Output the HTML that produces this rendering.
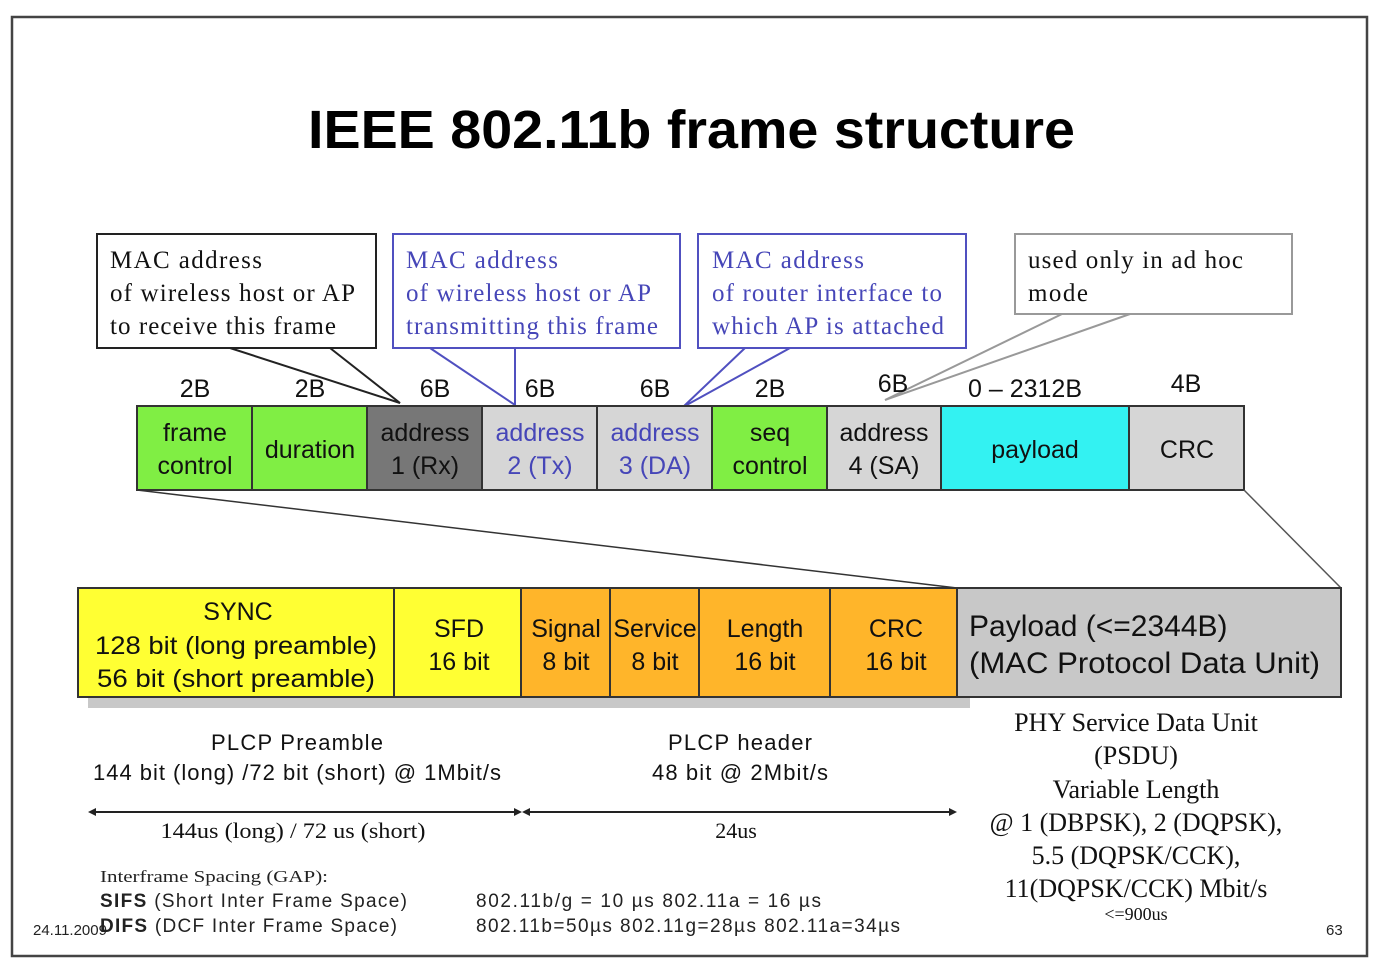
<!DOCTYPE html>
<html><head><meta charset="utf-8"><style>
html,body{margin:0;padding:0;background:#fff;width:1376px;height:966px;overflow:hidden}
svg{display:block}
.s{font-family:"Liberation Sans",sans-serif}
.r{font-family:"Liberation Serif",serif}
</style></head><body>
<svg width="1376" height="966" viewBox="0 0 1376 966" xmlns="http://www.w3.org/2000/svg">
<rect x="12" y="17" width="1355" height="939" fill="#fff" stroke="#444" stroke-width="2.5"/>
<text x="308" y="148" textLength="767" lengthAdjust="spacingAndGlyphs" class="s" font-size="54" font-weight="bold" fill="#000">IEEE 802.11b frame structure</text>

<!-- callouts -->
<g stroke-width="2">
<rect x="97" y="234" width="279" height="114" fill="#fff" stroke="#222"/>
<rect x="393" y="234" width="287" height="114" fill="#fff" stroke="#5050c0"/>
<rect x="698" y="234" width="268" height="114" fill="#fff" stroke="#5050c0"/>
<rect x="1015" y="234" width="277" height="80" fill="#fff" stroke="#999"/>
</g>
<g fill="none" stroke-width="2">
<polyline points="230,348 400,403 330,348" stroke="#222"/>
<polyline points="430,348 515,405 515,348" stroke="#5050c0"/>
<polyline points="745,348 683,407 790,348" stroke="#5050c0"/>
<polyline points="1062,314 885,400 1130,314" stroke="#999"/>
</g>
<g class="r" font-size="25" lengthAdjust="spacingAndGlyphs">
<text x="110" y="268" textLength="152" fill="#111">MAC address</text>
<text x="110" y="301" textLength="245" fill="#111">of wireless host or AP</text>
<text x="110" y="334" textLength="226" fill="#111">to receive this frame</text>
<text x="406" y="268" textLength="152" fill="#4646b8">MAC address</text>
<text x="406" y="301" textLength="245" fill="#4646b8">of wireless host or AP</text>
<text x="406" y="334" textLength="252" fill="#4646b8">transmitting  this frame</text>
<text x="712" y="268" textLength="152" fill="#4646b8">MAC address</text>
<text x="712" y="301" textLength="230" fill="#4646b8">of router interface to</text>
<text x="712" y="334" textLength="232" fill="#4646b8">which AP is attached</text>
<text x="1028" y="268" textLength="215" fill="#111">used only in ad hoc</text>
<text x="1028" y="301" textLength="60" fill="#111">mode</text>
</g>

<!-- size labels -->
<g class="s" font-size="25" fill="#111" text-anchor="middle">
<text x="195" y="397">2B</text><text x="310" y="397">2B</text><text x="435" y="397">6B</text>
<text x="540" y="397">6B</text><text x="655" y="397">6B</text><text x="770" y="397">2B</text>
<text x="893" y="392">6B</text><text x="1025" y="397">0 – 2312B</text><text x="1186" y="392">4B</text>
</g>

<!-- MAC frame row -->
<g stroke="#333" stroke-width="2">
<rect x="137" y="406" width="115" height="84" fill="#80ee44"/>
<rect x="252" y="406" width="115" height="84" fill="#80ee44"/>
<rect x="367" y="406" width="115" height="84" fill="#777"/>
<rect x="482" y="406" width="115" height="84" fill="#d6d6d6"/>
<rect x="597" y="406" width="115" height="84" fill="#d6d6d6"/>
<rect x="712" y="406" width="115" height="84" fill="#80ee44"/>
<rect x="827" y="406" width="114" height="84" fill="#d6d6d6"/>
<rect x="941" y="406" width="188" height="84" fill="#33f2f2"/>
<rect x="1129" y="406" width="115" height="84" fill="#d6d6d6"/>
</g>
<g class="s" font-size="25" text-anchor="middle" fill="#111">
<text x="195" y="441">frame</text><text x="195" y="474">control</text>
<text x="310" y="458">duration</text>
<text x="425" y="441">address</text><text x="425" y="474">1 (Rx)</text>
<text x="540" y="441" fill="#4646b8">address</text><text x="540" y="474" fill="#4646b8">2 (Tx)</text>
<text x="655" y="441" fill="#4646b8">address</text><text x="655" y="474" fill="#4646b8">3 (DA)</text>
<text x="770" y="441">seq</text><text x="770" y="474">control</text>
<text x="884" y="441">address</text><text x="884" y="474">4 (SA)</text>
<text x="1035" y="458">payload</text>
<text x="1187" y="458">CRC</text>
</g>

<line x1="137" y1="490" x2="957" y2="588" stroke="#333" stroke-width="1.5"/>
<line x1="1244" y1="490" x2="1341" y2="588" stroke="#555" stroke-width="1.5"/>

<!-- PHY row -->
<rect x="88" y="697" width="882" height="11" fill="#c8c8c8"/>
<g stroke="#333" stroke-width="2">
<rect x="78" y="588" width="316" height="109" fill="#ffff33"/>
<rect x="394" y="588" width="127" height="109" fill="#ffff33"/>
<rect x="521" y="588" width="89" height="109" fill="#ffb52a"/>
<rect x="610" y="588" width="89" height="109" fill="#ffb52a"/>
<rect x="699" y="588" width="131" height="109" fill="#ffb52a"/>
<rect x="830" y="588" width="127" height="109" fill="#ffb52a"/>
<rect x="957" y="588" width="384" height="109" fill="#c8c8c8"/>
</g>
<g class="s" font-size="25" text-anchor="middle" fill="#111">
<text x="238" y="620">SYNC</text>
<text x="236" y="654" textLength="282" lengthAdjust="spacingAndGlyphs">128 bit (long preamble)</text>
<text x="236" y="687" textLength="278" lengthAdjust="spacingAndGlyphs">56 bit (short preamble)</text>
<text x="459" y="637">SFD</text><text x="459" y="670">16 bit</text>
<text x="566" y="637">Signal</text><text x="566" y="670">8 bit</text>
<text x="655" y="637">Service</text><text x="655" y="670">8 bit</text>
<text x="765" y="637">Length</text><text x="765" y="670">16 bit</text>
<text x="896" y="637">CRC</text><text x="896" y="670">16 bit</text>
</g>
<g class="s" font-size="30" fill="#111">
<text x="969" y="636">Payload (&lt;=2344B)</text>
<text x="969" y="673" textLength="351" lengthAdjust="spacingAndGlyphs">(MAC Protocol Data Unit)</text>
</g>

<!-- descriptions -->
<g class="s" font-size="22" fill="#111" text-anchor="middle" lengthAdjust="spacingAndGlyphs">
<text x="297" y="750" textLength="172">PLCP Preamble</text>
<text x="297" y="780" textLength="408">144 bit (long) /72 bit (short) @ 1Mbit/s</text>
<text x="740" y="750" textLength="144">PLCP header</text>
<text x="740" y="780" textLength="176">48 bit @ 2Mbit/s</text>
</g>
<g class="r" font-size="26" fill="#111" text-anchor="middle">
<text x="1136" y="731">PHY Service Data Unit</text>
<text x="1136" y="764">(PSDU)</text>
<text x="1136" y="798">Variable Length</text>
<text x="1136" y="831">@ 1 (DBPSK), 2 (DQPSK),</text>
<text x="1136" y="864">5.5 (DQPSK/CCK),</text>
<text x="1136" y="897">11(DQPSK/CCK) Mbit/s</text>
<text x="1136" y="920" font-size="18">&lt;=900us</text>
</g>

<!-- arrows -->
<g stroke="#222" stroke-width="2">
<line x1="92" y1="812" x2="518" y2="812"/>
<line x1="526" y1="812" x2="953" y2="812"/>
</g>
<g fill="#222">
<polygon points="88,812 96,808 96,816"/>
<polygon points="522,812 514,808 514,816"/>
<polygon points="522,812 530,808 530,816"/>
<polygon points="957,812 949,808 949,816"/>
</g>
<g class="r" font-size="22" fill="#111" text-anchor="middle">
<text x="293" y="838" textLength="265" lengthAdjust="spacingAndGlyphs">144us (long) / 72 us (short)</text>
<text x="736" y="838">24us</text>
</g>

<!-- footer -->
<text x="100" y="882" class="r" font-size="17" fill="#222" textLength="228" lengthAdjust="spacingAndGlyphs">Interframe Spacing (GAP):</text>
<g class="s" font-size="19" fill="#222" lengthAdjust="spacingAndGlyphs">
<text x="100" y="907" textLength="307"><tspan font-weight="bold">SIFS</tspan>  (Short Inter Frame Space)</text>
<text x="100" y="932" textLength="297"><tspan font-weight="bold">DIFS</tspan> (DCF Inter Frame Space)</text>
<text x="476" y="907" textLength="345">802.11b/g = 10 µs   802.11a = 16 µs</text>
<text x="476" y="932" textLength="424">802.11b=50µs  802.11g=28µs  802.11a=34µs</text>
</g>
<text x="33" y="935" class="s" font-size="15" fill="#222">24.11.2009</text>
<text x="1326" y="935" class="s" font-size="15" fill="#222">63</text>
</svg>
</body></html>
